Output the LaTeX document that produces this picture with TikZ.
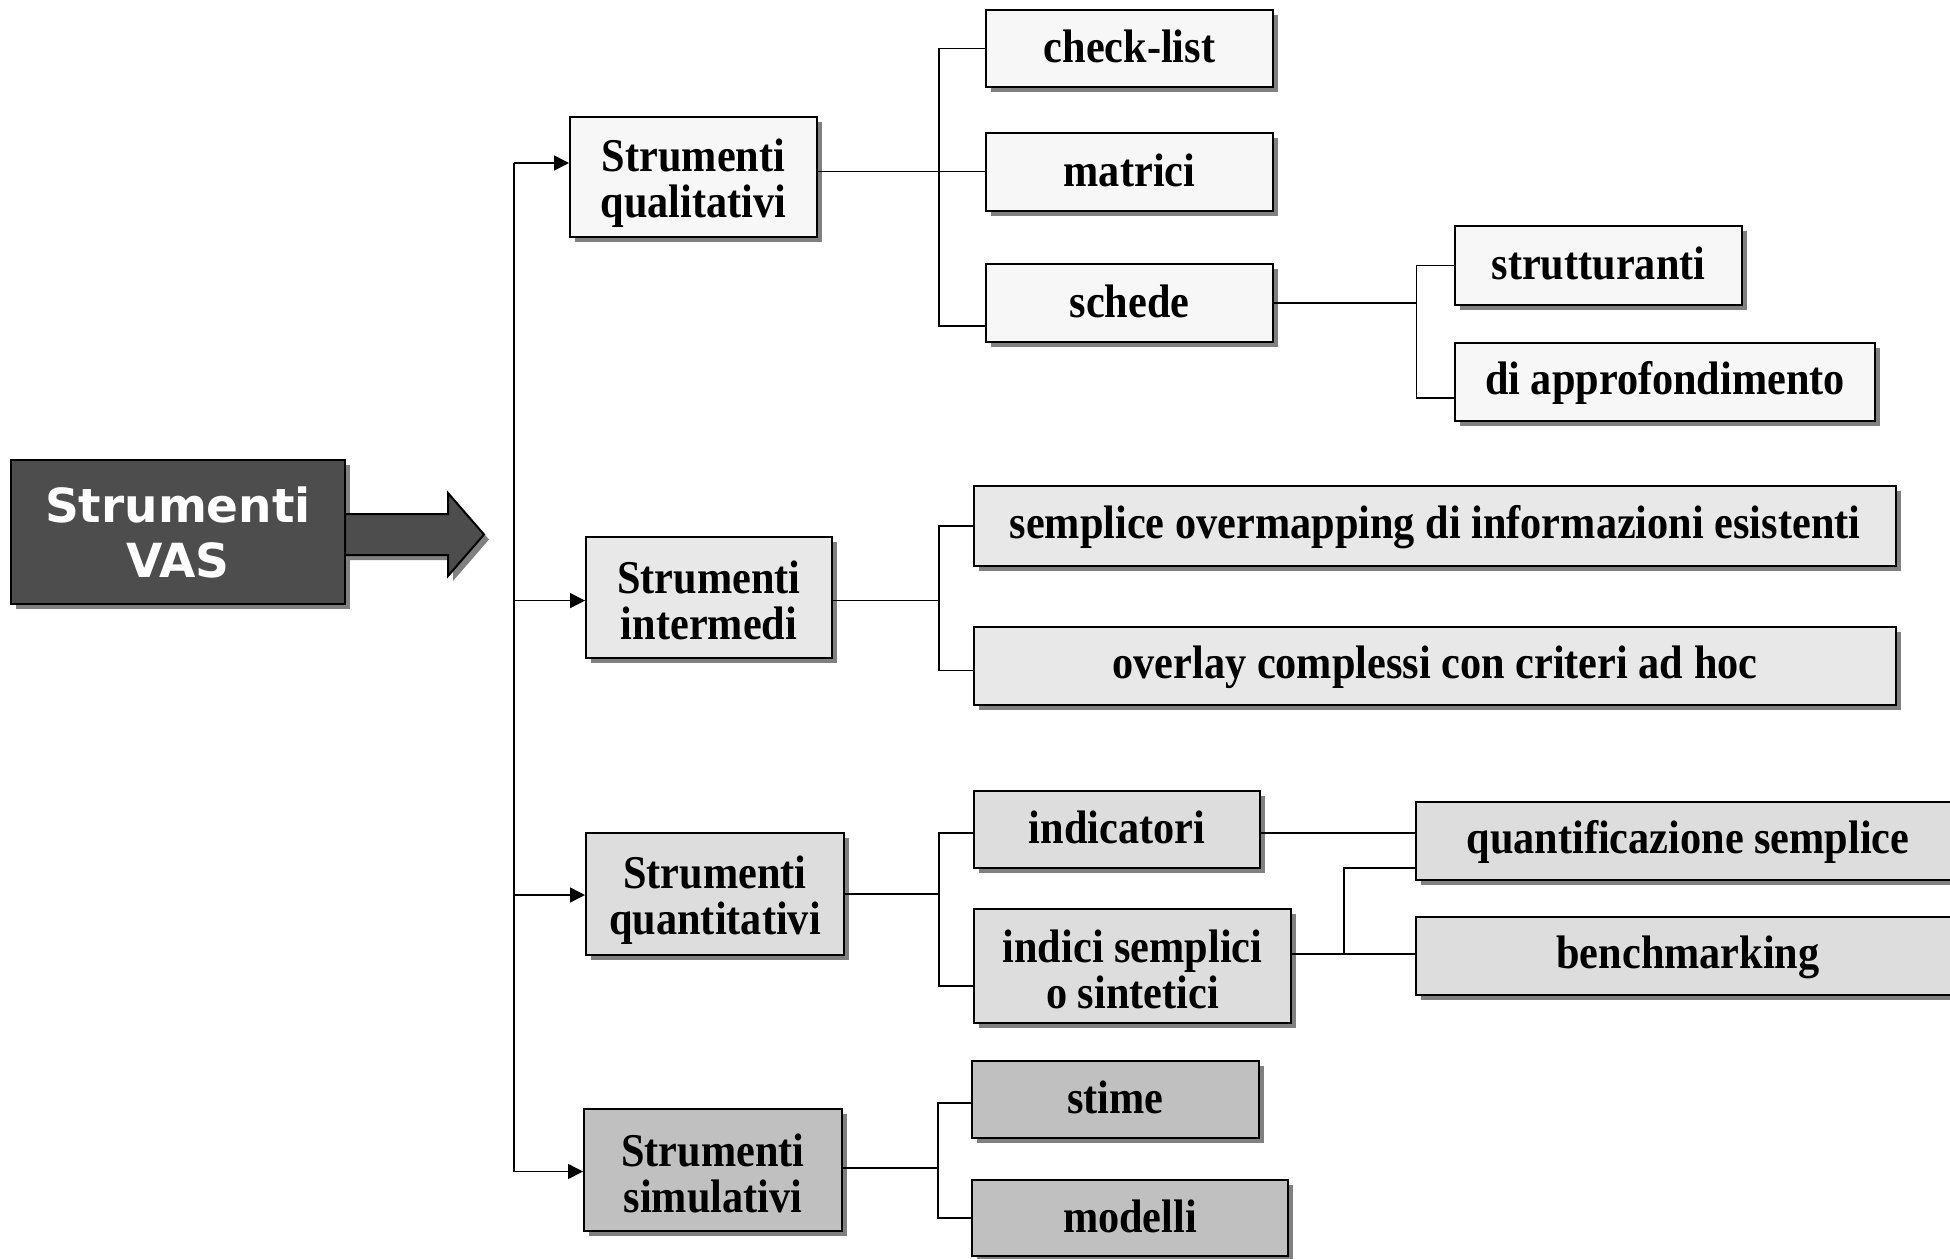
\documentclass[tikz,border=0pt]{standalone}
\usepackage{fontspec}
\setmainfont{Liberation Serif}[FakeStretch=0.9]
\newfontfamily\vasfont{DejaVu Sans}
\usetikzlibrary{arrows.meta,shadows}
\definecolor{fA}{HTML}{F7F7F7}
\definecolor{fB}{HTML}{E8E8E8}
\definecolor{fC}{HTML}{DDDDDD}
\definecolor{fD}{HTML}{C0C0C0}
\definecolor{mainfill}{HTML}{4D4D4D}
\definecolor{shd}{HTML}{808080}
\newcommand\ls{\rule[-0.15em]{0pt}{0.9em}}
\newcommand\lt{\rule[-0.15em]{0pt}{1.11em}}
\tikzset{
  boxbase/.style={draw=black, line width=2pt, inner sep=0pt, align=center,
    font=\fontsize{47}{46}\selectfont\bfseries,
    general shadow={fill=shd, shadow xshift=5pt, shadow yshift=-5pt}},
  conn/.style={draw=black, line width=1.6pt},
  arr/.style={conn, -{Triangle[length=15pt,width=15pt]}}
}
\begin{document}
\begin{tikzpicture}[x=1pt,y=-1pt]
\useasboundingbox (0,0) rectangle (1950,1258);

% main box and big arrow
\node[boxbase, fill=mainfill, text=white, font=\vasfont\fontsize{47}{55}\selectfont\bfseries,
  minimum width=334pt, minimum height=144pt] (main) at (178,532) {Strumenti\\VAS};
\draw[fill=mainfill, line width=2pt, general shadow={fill=shd, shadow xshift=5pt, shadow yshift=-5pt}]
  (345,514) -- (448,514) -- (448,493) -- (484,534.5) -- (448,576) -- (448,555) -- (345,555) -- cycle;

% level 1
\node[boxbase, fill=fA, minimum width=247pt, minimum height=120pt] (qual) at (693.5,177) {\lt Strumenti\\\ls qualitativi};
\node[boxbase, fill=fB, minimum width=246pt, minimum height=121pt] (interm) at (709,597.5) {\lt Strumenti\\\ls intermedi};
\node[boxbase, fill=fC, minimum width=258pt, minimum height=122pt] (quant) at (715,894) {\lt Strumenti\\\ls quantitativi};
\node[boxbase, fill=fD, minimum width=258pt, minimum height=122pt] (simul) at (713,1170) {\lt Strumenti\\\ls simulativi};

% level 2
\node[boxbase, fill=fA, minimum width=287pt, minimum height=77pt] (check) at (1129.5,48.5) {\ls check-list};
\node[boxbase, fill=fA, minimum width=287pt, minimum height=78pt] (matrici) at (1129.5,172) {\ls matrici};
\node[boxbase, fill=fA, minimum width=287pt, minimum height=78pt] (schede) at (1129.5,303) {\ls schede};
\node[boxbase, fill=fA, minimum width=287pt, minimum height=79pt] (strutt) at (1598.5,265.5) {\ls strutturanti};
\node[boxbase, fill=fA, minimum width=420pt, minimum height=78pt] (diappr) at (1665,382) {\ls di approfondimento};

\node[boxbase, fill=fB, minimum width=922pt, minimum height=80pt] (semplice) at (1435,526) {\ls semplice overmapping di informazioni esistenti};
\node[boxbase, fill=fB, minimum width=922pt, minimum height=78pt] (overlay) at (1435,666) {\ls overlay complessi con criteri ad hoc};

\node[boxbase, fill=fC, minimum width=286pt, minimum height=77pt] (indicatori) at (1117,829.5) {\ls indicatori};
\node[boxbase, fill=fC, minimum width=317pt, minimum height=114pt] (indici) at (1132.5,966) {\lt indici semplici\\\ls o sintetici};
\node[boxbase, fill=fC, minimum width=544pt, minimum height=78pt] (quantif) at (1688,841) {\ls quantificazione semplice};
\node[boxbase, fill=fC, minimum width=544pt, minimum height=78pt] (bench) at (1688,956) {\ls benchmarking};

\node[boxbase, fill=fD, minimum width=287pt, minimum height=77pt] (stime) at (1115.5,1099.5) {\ls stime};
\node[boxbase, fill=fD, minimum width=316pt, minimum height=76pt] (modelli) at (1130,1218) {\ls modelli};

% trunk to level 1
\coordinate (v1) at (514,163);
\coordinate (v2) at (514,600.6);
\coordinate (v3) at (514,895);
\coordinate (v4) at (514,1171.5);
\draw[conn] (v1) -- (v4);
\draw[arr] (v1) -- (v1 -| qual.west);
\draw[arr] (v2) -- (v2 -| interm.west);
\draw[arr] (v3) -- (v3 -| quant.west);
\draw[arr] (v4) -- (v4 -| simul.west);

% qualitativi branch
\coordinate (j1) at (939,171.6);
\coordinate (j1b) at (939,326);
\draw[conn] (qual.east |- j1) -- (matrici.west |- j1);
\draw[conn] (check.west) -| (j1b) -- (schede.west |- j1b);

% schede branch
\coordinate (j2) at (1416.5,303);
\coordinate (j2b) at (1416.5,398);
\draw[conn] (schede.east) -- (j2);
\draw[conn] (strutt.west) -| (j2b) -- (diappr.west |- j2b);

% intermedi branch
\coordinate (j3) at (939,600.6);
\coordinate (j3b) at (939,670.3);
\draw[conn] (interm.east |- j3) -- (j3);
\draw[conn] (semplice.west) -| (j3b) -- (overlay.west |- j3b);

% quantitativi branch
\coordinate (j4) at (939,894);
\coordinate (j4a) at (939,833);
\coordinate (j4b) at (939,986);
\draw[conn] (quant.east) -- (j4);
\draw[conn] (indicatori.west |- j4a) -- (j4a) -- (j4b) -- (indici.west |- j4b);
\draw[conn] (indicatori.east |- j4a) -- (quantif.west |- j4a);
\coordinate (j5) at (1344,953.8);
\coordinate (j5a) at (1344,868);
\draw[conn] (indici.east |- j5) -- (bench.west |- j5);
\draw[conn] (j5) -- (j5a) -- (quantif.west |- j5a);

% simulativi branch
\coordinate (j6) at (938,1168);
\coordinate (j6a) at (938,1103);
\draw[conn] (simul.east |- j6) -- (j6);
\draw[conn] (stime.west |- j6a) -- (j6a) |- (modelli.west);
\end{tikzpicture}
\end{document}
